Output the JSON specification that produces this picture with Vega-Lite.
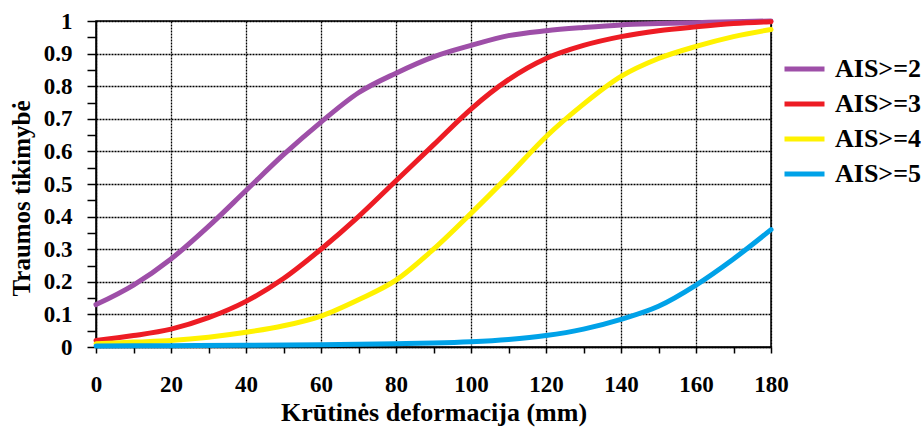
{
  "$schema": "https://vega.github.io/schema/vega-lite/v6.json",
  "autosize": "none",
  "width": 675,
  "height": 326,
  "padding": {"left": 96, "top": 21, "right": 153, "bottom": 80},
  "background": "white",
  "config": {
    "view": {"stroke": "#000", "strokeWidth": 1.5},
    "font": "Liberation Serif",
    "axis": {
      "domainColor": "#000",
      "domainWidth": 1.5,
      "tickColor": "#000",
      "tickWidth": 1.5,
      "gridColor": "#000",
      "gridDash": [2, 1],
      "gridWidth": 1.3,
      "labelFont": "Liberation Serif",
      "labelFontWeight": "bold",
      "labelColor": "#000",
      "labelFlush": false,
      "titleFont": "Liberation Serif",
      "titleFontWeight": "bold",
      "titleColor": "#000"
    }
  },
  "data": {
    "values": [
      {"x": 0, "p": 0.13, "s": "AIS>=2"},
      {"x": 10, "p": 0.19, "s": "AIS>=2"},
      {"x": 20, "p": 0.27, "s": "AIS>=2"},
      {"x": 30, "p": 0.37, "s": "AIS>=2"},
      {"x": 40, "p": 0.48, "s": "AIS>=2"},
      {"x": 50, "p": 0.59, "s": "AIS>=2"},
      {"x": 60, "p": 0.69, "s": "AIS>=2"},
      {"x": 70, "p": 0.78, "s": "AIS>=2"},
      {"x": 80, "p": 0.84, "s": "AIS>=2"},
      {"x": 90, "p": 0.89, "s": "AIS>=2"},
      {"x": 100, "p": 0.925, "s": "AIS>=2"},
      {"x": 110, "p": 0.955, "s": "AIS>=2"},
      {"x": 120, "p": 0.97, "s": "AIS>=2"},
      {"x": 130, "p": 0.98, "s": "AIS>=2"},
      {"x": 140, "p": 0.988, "s": "AIS>=2"},
      {"x": 150, "p": 0.992, "s": "AIS>=2"},
      {"x": 160, "p": 0.995, "s": "AIS>=2"},
      {"x": 170, "p": 0.998, "s": "AIS>=2"},
      {"x": 180, "p": 1.0, "s": "AIS>=2"},
      {"x": 0, "p": 0.02, "s": "AIS>=3"},
      {"x": 10, "p": 0.035, "s": "AIS>=3"},
      {"x": 20, "p": 0.055, "s": "AIS>=3"},
      {"x": 30, "p": 0.09, "s": "AIS>=3"},
      {"x": 40, "p": 0.14, "s": "AIS>=3"},
      {"x": 50, "p": 0.21, "s": "AIS>=3"},
      {"x": 60, "p": 0.3, "s": "AIS>=3"},
      {"x": 70, "p": 0.4, "s": "AIS>=3"},
      {"x": 80, "p": 0.51, "s": "AIS>=3"},
      {"x": 90, "p": 0.62, "s": "AIS>=3"},
      {"x": 100, "p": 0.73, "s": "AIS>=3"},
      {"x": 110, "p": 0.82, "s": "AIS>=3"},
      {"x": 120, "p": 0.885, "s": "AIS>=3"},
      {"x": 130, "p": 0.925, "s": "AIS>=3"},
      {"x": 140, "p": 0.952, "s": "AIS>=3"},
      {"x": 150, "p": 0.97, "s": "AIS>=3"},
      {"x": 160, "p": 0.982, "s": "AIS>=3"},
      {"x": 170, "p": 0.992, "s": "AIS>=3"},
      {"x": 180, "p": 0.998, "s": "AIS>=3"},
      {"x": 0, "p": 0.01, "s": "AIS>=4"},
      {"x": 10, "p": 0.015, "s": "AIS>=4"},
      {"x": 20, "p": 0.02, "s": "AIS>=4"},
      {"x": 30, "p": 0.03, "s": "AIS>=4"},
      {"x": 40, "p": 0.045, "s": "AIS>=4"},
      {"x": 50, "p": 0.065, "s": "AIS>=4"},
      {"x": 60, "p": 0.095, "s": "AIS>=4"},
      {"x": 70, "p": 0.145, "s": "AIS>=4"},
      {"x": 80, "p": 0.205, "s": "AIS>=4"},
      {"x": 90, "p": 0.3, "s": "AIS>=4"},
      {"x": 100, "p": 0.41, "s": "AIS>=4"},
      {"x": 110, "p": 0.525, "s": "AIS>=4"},
      {"x": 120, "p": 0.645, "s": "AIS>=4"},
      {"x": 130, "p": 0.745, "s": "AIS>=4"},
      {"x": 140, "p": 0.83, "s": "AIS>=4"},
      {"x": 150, "p": 0.885, "s": "AIS>=4"},
      {"x": 160, "p": 0.922, "s": "AIS>=4"},
      {"x": 170, "p": 0.952, "s": "AIS>=4"},
      {"x": 180, "p": 0.974, "s": "AIS>=4"},
      {"x": 0, "p": 0.003, "s": "AIS>=5"},
      {"x": 20, "p": 0.004, "s": "AIS>=5"},
      {"x": 40, "p": 0.005, "s": "AIS>=5"},
      {"x": 60, "p": 0.007, "s": "AIS>=5"},
      {"x": 80, "p": 0.01, "s": "AIS>=5"},
      {"x": 90, "p": 0.012, "s": "AIS>=5"},
      {"x": 100, "p": 0.016, "s": "AIS>=5"},
      {"x": 110, "p": 0.023, "s": "AIS>=5"},
      {"x": 120, "p": 0.035, "s": "AIS>=5"},
      {"x": 130, "p": 0.055, "s": "AIS>=5"},
      {"x": 140, "p": 0.085, "s": "AIS>=5"},
      {"x": 150, "p": 0.125, "s": "AIS>=5"},
      {"x": 160, "p": 0.19, "s": "AIS>=5"},
      {"x": 170, "p": 0.27, "s": "AIS>=5"},
      {"x": 180, "p": 0.36, "s": "AIS>=5"}
    ]
  },
  "mark": {"type": "line", "strokeWidth": 5, "interpolate": "monotone", "strokeCap": "round"},
  "encoding": {
    "x": {
      "field": "x",
      "type": "quantitative",
      "scale": {"domain": [0, 180], "nice": false},
      "axis": {
        "title": "Krūtinės deformacija (mm)",
        "titleFontSize": 26,
        "titlePadding": 3,
        "values": [0,10,20,30,40,50,60,70,80,90,100,110,120,130,140,150,160,170,180],
        "labelExpr": "datum.value % 20 == 0 ? datum.label : ''",
        "gridOpacity": {"condition": {"test": "datum.value % 20 != 0", "value": 0}, "value": 1},
        "tickSize": 6,
        "labelFontSize": 23,
        "labelPadding": 20
      }
    },
    "y": {
      "field": "p",
      "type": "quantitative",
      "scale": {"domain": [0, 1], "nice": false},
      "axis": {
        "title": "Traumos tikimybė",
        "titleFontSize": 25,
        "titlePadding": 9,
        "titleY": 177,
        "values": [0,0.05,0.1,0.15,0.2,0.25,0.3,0.35,0.4,0.45,0.5,0.55,0.6,0.65,0.7,0.75,0.8,0.85,0.9,0.95,1],
        "format": ".1~f",
        "labelExpr": "round(datum.value*20) % 2 == 1 ? '' : datum.label",
        "gridOpacity": {"condition": {"test": "round(datum.value*20) % 2 == 1", "value": 0}, "value": 1},
        "tickSize": 9,
        "labelFontSize": 23,
        "labelPadding": 15
      }
    },
    "color": {
      "field": "s",
      "type": "nominal",
      "scale": {
        "domain": ["AIS>=2", "AIS>=3", "AIS>=4", "AIS>=5"],
        "range": ["#9e4fa8", "#ed1c24", "#fff200", "#00a2e8"]
      },
      "legend": {
        "title": null,
        "orient": "none",
        "legendX": 686,
        "legendY": 36,
        "symbolType": "stroke",
        "symbolStrokeWidth": 5,
        "symbolSize": 1600,
        "clipHeight": 24,
        "labelFont": "Liberation Serif",
        "labelFontWeight": "bold",
        "labelFontSize": 26,
        "labelColor": "#000",
        "labelOffset": 8,
        "rowPadding": 9
      }
    }
  }
}
